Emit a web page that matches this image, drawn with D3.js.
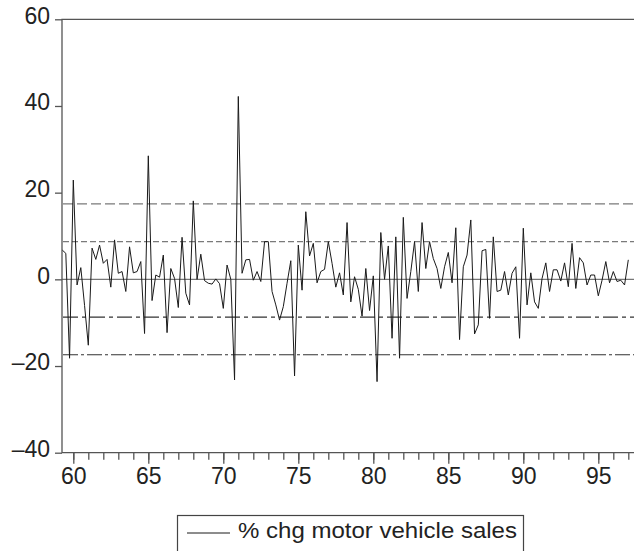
<!DOCTYPE html>
<html>
<head>
<meta charset="utf-8">
<script src="https://cdn.jsdelivr.net/npm/d3@7"></script>
<style>
  html, body { margin: 0; padding: 0; background: #fff; }
  svg { display: block; font-family: "Liberation Sans", Arial, Helvetica, sans-serif; }
</style>
</head>
<body>
<svg id="chart" width="634" height="551"></svg>
<script>
// Quarterly % change in motor vehicle sales, 1959Q2 – 1997Q1
const startYear = 1959;
const startQuarter = 2;
const pctChange = [
  6.8, 6.0, -18.2,
  22.9, -1.3, 2.7, -6.0,
  -15.2, 7.2, 4.6, 7.9,
  3.7, 4.6, -1.8, 9.1,
  1.4, 1.8, -2.8, 7.5,
  1.5, 1.8, 4.1, -12.5,
  28.5, -4.9, 1.0, 0.5,
  5.6, -12.3, 2.5, 0.2,
  -6.5, 9.7, -3.2, -5.9,
  18.1, 0.0, 5.8, -0.3,
  -0.9, -1.1, 0.1, -1.0,
  -6.7, 3.3, 0.0, -23.2,
  42.2, 1.4, 4.5, 4.6,
  -0.2, 1.8, -0.5, 8.7,
  8.7, -2.8, -5.9, -9.4,
  -6.3, -0.9, 4.3, -22.3,
  7.9, -2.5, 15.6, 5.4,
  8.3, -0.8, 1.8, 2.3,
  8.7, 3.7, -1.8, 1.5,
  -3.6, 13.1, -5.2, 0.6,
  -2.3, -8.5, 2.5, -7.2,
  0.8, -23.6, 10.8, 0.0,
  7.7, -13.6, 9.8, -18.2,
  14.3, -4.4, 1.8, 8.7,
  -2.8, 13.1, 2.5, 8.7,
  4.8, 2.5, -2.1, 2.9,
  6.2, -0.8, 11.9, -13.9,
  2.9, 5.6, 13.7, -12.6,
  -10.5, 6.6, 6.9, -9.0,
  9.8, -2.8, -2.5, 1.8,
  -3.6, 1.4, 2.9, -13.6,
  11.8, -5.9, 1.5, -5.2,
  -6.7, 0.2, 3.8, -2.8,
  2.2, 2.2, -0.4, 3.8,
  -1.7, 8.3, -2.1, 5.0,
  3.8, -1.3, 1.0, 1.0,
  -3.8, -0.2, 4.1, -0.8,
  1.8, -0.5, -0.2, -1.3,
  4.5
];

// Horizontal reference levels (±1 and ±2 standard deviations)
const bandLevels = [17.4, 8.7, -8.7, -17.4];
const bandDash = ["10,4", "6,3", "15,4,4,4", "15,3,3,3"];
const bandColor = ["#7a7a7a", "#7a7a7a", "#333", "#333"];

const yTicks = [60, 40, 20, 0, -20, -40];
const xMajorTicks = [60, 65, 70, 75, 80, 85, 90, 95];
const xMinorTicks = d3.range(60, 98);
const legendLabel = "% chg motor vehicle sales";

const svg = d3.select("#chart");
const plotLeft = 62, plotTop = 19.3, plotBottom = 452.7, plotRight = 640;
const labelFont = "Liberation Sans, Arial, sans-serif";

// time value: year + (quarter-1)/4
const series = pctChange.map((v, i) => {
  const q = startQuarter - 1 + i;
  return { t: startYear + Math.floor(q / 4) + (q % 4) / 4, v };
});

// two-digit year ticks placed at the first quarter of each year
const x = d3.scaleLinear().domain([1960, 1995]).range([73.3, 598.3]);
const xYY = x.copy().domain([60, 95]);
const y = d3.scaleLinear().domain([-40, 60]).range([plotBottom, plotTop]);

// reference lines
svg.append("line")
  .attr("x1", plotLeft).attr("x2", plotRight)
  .attr("y1", y(0)).attr("y2", y(0))
  .attr("stroke", "#777").attr("stroke-width", 1.2);

svg.selectAll("line.band").data(bandLevels).join("line")
  .attr("class", "band")
  .attr("x1", plotLeft + 1).attr("x2", plotRight)
  .attr("y1", d => y(d)).attr("y2", d => y(d))
  .attr("stroke", (d, i) => bandColor[i])
  .attr("stroke-width", 1.2)
  .attr("stroke-dasharray", (d, i) => bandDash[i]);

// the series
const line = d3.line().x(d => x(d.t)).y(d => y(d.v));
svg.append("path")
  .datum(series)
  .attr("d", line)
  .attr("fill", "none")
  .attr("stroke", "#1a1a1a")
  .attr("stroke-width", 1)
  .attr("stroke-linejoin", "miter");

// frame: left, top, bottom
svg.append("path")
  .attr("d", `M${plotRight},${plotTop}H${plotLeft}V${plotBottom}H${plotRight}`)
  .attr("fill", "none").attr("stroke", "#555").attr("stroke-width", 1.3);

// y axis
const yAxis = d3.axisLeft(y).tickValues(yTicks).tickSize(7).tickPadding(5)
  .tickFormat(d => d < 0 ? "\u2013" + Math.abs(d) : String(d));
const gy = svg.append("g").attr("transform", `translate(${plotLeft},0)`).call(yAxis);
gy.select(".domain").remove();
gy.selectAll(".tick line").attr("stroke", "#555").attr("stroke-width", 1.3);
gy.selectAll(".tick text").attr("font-size", 23).attr("fill", "#222")
  .attr("dy", "0.17em").attr("font-family", labelFont);

// x axis: minor yearly ticks, labelled major ticks every 5 years
const gxMinor = svg.append("g").attr("transform", `translate(0,${plotBottom})`)
  .call(d3.axisBottom(xYY).tickValues(xMinorTicks).tickSize(7).tickFormat(""));
gxMinor.select(".domain").remove();
gxMinor.selectAll(".tick line").attr("stroke", "#555").attr("stroke-width", 1.3);

const gx = svg.append("g").attr("transform", `translate(0,${plotBottom})`)
  .call(d3.axisBottom(xYY).tickValues(xMajorTicks).tickSize(11).tickPadding(4)
    .tickFormat(d => String(d)));
gx.select(".domain").remove();
gx.selectAll(".tick line").attr("stroke", "#555").attr("stroke-width", 1.3);
gx.selectAll(".tick text").attr("font-size", 23).attr("fill", "#222")
  .attr("font-family", labelFont);

// legend
const lg = svg.append("g");
lg.append("rect").attr("x", 177.5).attr("y", 515.5).attr("width", 346).attr("height", 50)
  .attr("fill", "none").attr("stroke", "#444").attr("stroke-width", 1.2);
lg.append("line").attr("x1", 187).attr("x2", 230).attr("y1", 533).attr("y2", 533)
  .attr("stroke", "#1a1a1a").attr("stroke-width", 1);
lg.append("text").attr("x", 238).attr("y", 538).attr("font-size", 22.5).attr("fill", "#222")
  .attr("textLength", 279).attr("lengthAdjust", "spacingAndGlyphs")
  .text(legendLabel);
</script>
</body>
</html>
